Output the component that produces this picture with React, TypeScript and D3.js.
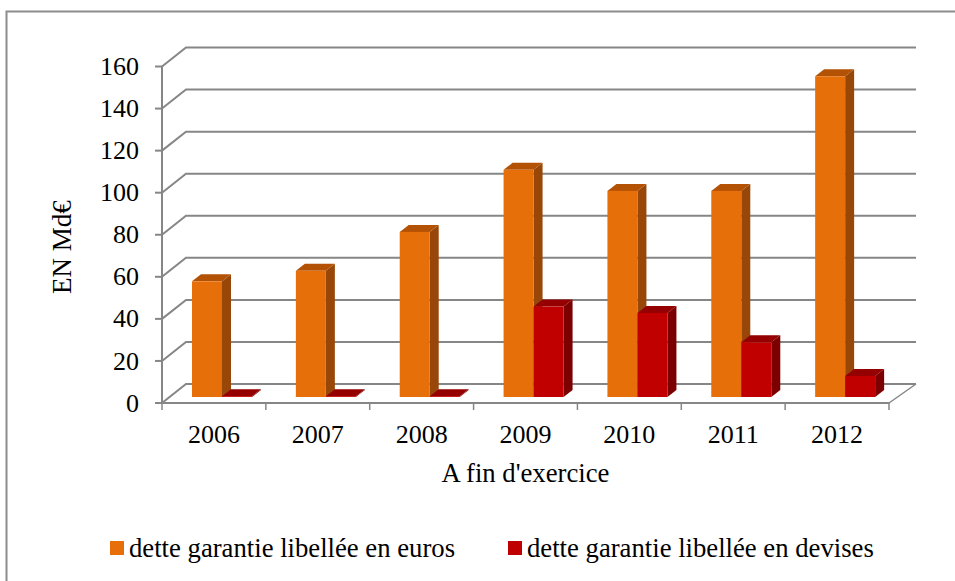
import React from 'react';
import * as d3 from 'd3';

const years = ['2006', '2007', '2008', '2009', '2010', '2011', '2012'];
const euros = [55, 60, 78.5, 108, 98, 98, 152.5];
const devises = [0.4, 0.4, 0.4, 43, 40, 26, 10];
const ticks = [0, 20, 40, 60, 80, 100, 120, 140, 160];
const seriesNames = ['dette garantie libellée en euros', 'dette garantie libellée en devises'];
const seriesColors = ['#e76f0a', '#c00000'];
const sideColors = ['#994708', '#7d0000'];
const topColors = ['#b35205', '#950000'];

const W = 955;
const H = 581;
const FONT = '"Liberation Serif", serif';
const GRID = '#868686';

// wall is offset from the front axis plane
const wallDx = 24;
const wallDy = -19;
// bars sit a little behind the front edge of the floor
const barDy = -6;
const barDepthX = 9;
const barDepthY = -7;

const x = d3.scaleBand<string>().domain(years).range([162, 889]);
const y = d3.scaleLinear().domain([0, 160]).range([403, 66.5]);
const group = d3.scaleBand<number>().domain([0, 1]).range([0, 60]);
const barLeft = 30;

function Bar({ year, value, s }: { year: string; value: number; s: number }) {
  const x0 = x(year)! + barLeft + group(s)!;
  const x1 = x0 + group.bandwidth();
  const base = y(0) + barDy;
  const top = y(value) + barDy;
  const dx = barDepthX;
  const dy = barDepthY;
  return (
    <g>
      <path
        d={`M${x1},${top}L${x1 + dx},${top + dy}L${x1 + dx},${base + dy}L${x1},${base}Z`}
        fill={sideColors[s]}
      />
      <path
        d={`M${x0},${top}L${x0 + dx},${top + dy}L${x1 + dx},${top + dy}L${x1},${top}Z`}
        fill={topColors[s]}
      />
      <rect x={x0} y={top} width={group.bandwidth()} height={base - top} fill={seriesColors[s]} />
    </g>
  );
}

export default function App() {
  return (
    <svg
      width={W}
      height={H}
      viewBox={`0 0 ${W} ${H}`}
      style={{ position: 'absolute', left: 0, top: 0, background: '#fff' }}
      fontFamily={FONT}
      fill="#000"
    >
      {/* frame is cropped on the right and bottom */}
      <path d={`M6.5,${H}V11.5H${W}`} fill="none" stroke="#8c8c8c" strokeWidth={2} />

      {/* back wall grid */}
      {ticks.map(t => (
        <path
          key={t}
          d={`M162,${y(t)}L${162 + wallDx},${y(t) + wallDy}H916`}
          fill="none"
          stroke={GRID}
          strokeWidth={2}
        />
      ))}
      {/* floor and axes */}
      <path d={`M889,${y(0)}L916,${y(0) + wallDy}`} fill="none" stroke={GRID} strokeWidth={1.5} />
      <line x1={162} x2={162} y1={y(160)} y2={y(0)} stroke={GRID} strokeWidth={2} />
      <line x1={155} x2={889} y1={y(0)} y2={y(0)} stroke={GRID} strokeWidth={2} />
      {ticks.map(t => (
        <line key={t} x1={155} x2={162} y1={y(t)} y2={y(t)} stroke={GRID} strokeWidth={2} />
      ))}
      {[...years.map(d => x(d)!), 889].map(v => (
        <line key={v} x1={v} x2={v} y1={y(0)} y2={y(0) + 7} stroke={GRID} strokeWidth={1.5} />
      ))}

      {years.map((d, i) => (
        <g key={d}>
          <Bar year={d} value={euros[i]} s={0} />
          <Bar year={d} value={devises[i]} s={1} />
        </g>
      ))}

      {ticks.map(t => (
        <text key={t} x={139} y={y(t)} dy="0.33em" textAnchor="end" fontSize={26}>
          {t}
        </text>
      ))}
      {years.map(d => (
        <text key={d} x={x(d)! + x.bandwidth() / 2} y={443} textAnchor="middle" fontSize={26}>
          {d}
        </text>
      ))}
      <text x={525.5} y={482} textAnchor="middle" fontSize={26.7}>
        A fin d'exercice
      </text>
      <text transform="translate(71,247) rotate(-90)" textAnchor="middle" fontSize={27}>
        EN Md€
      </text>

      {seriesNames.map((name, s) => {
        const lx = [110, 508][s];
        return (
          <g key={name}>
            <rect x={lx} y={541} width={14} height={14} fill={seriesColors[s]} />
            <text x={lx + 19} y={557} fontSize={26.7}>
              {name}
            </text>
          </g>
        );
      })}
    </svg>
  );
}
